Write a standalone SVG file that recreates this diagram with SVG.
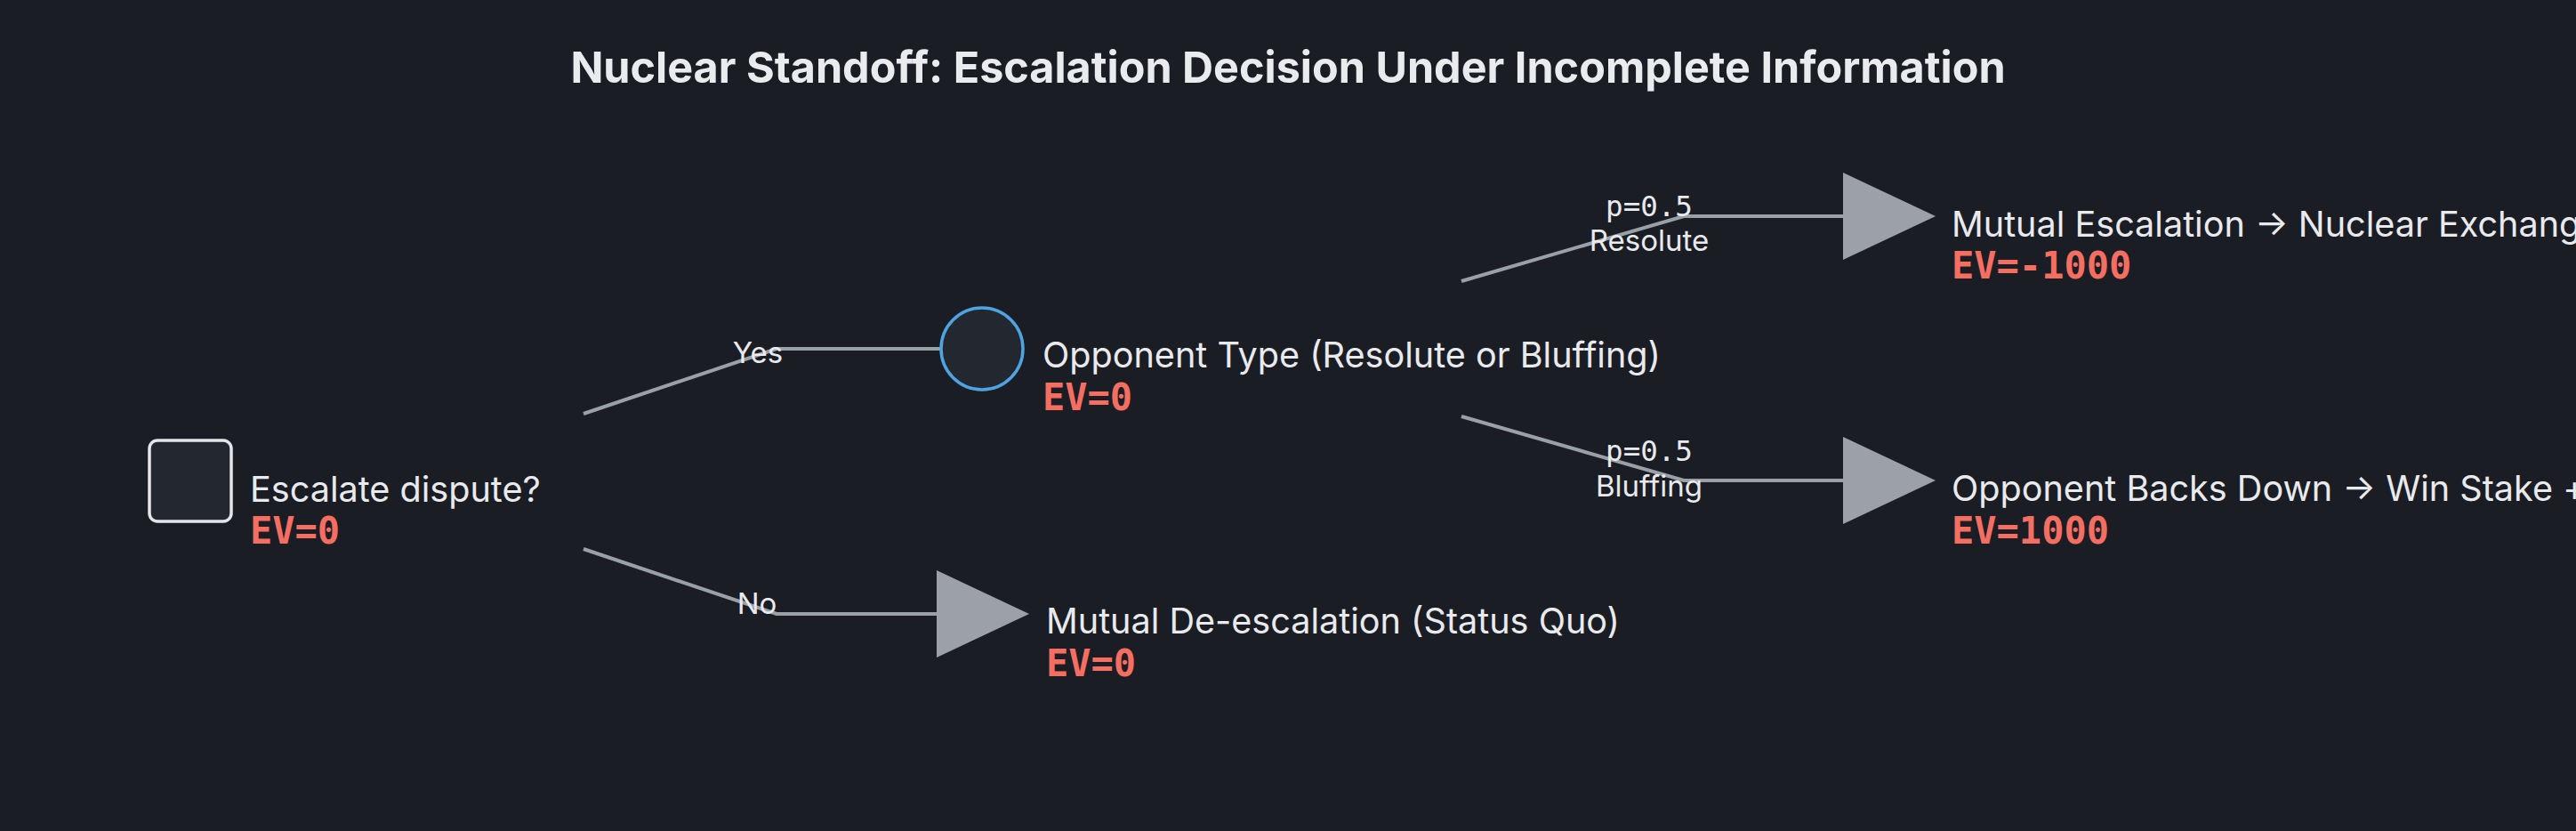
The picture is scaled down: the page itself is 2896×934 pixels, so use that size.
<svg xmlns="http://www.w3.org/2000/svg" width="2896" height="934" viewBox="0 0 2896 934">
<style>
.bg{fill:#1b1d24}
.title{font-family:Inter,"Noto Sans","Liberation Sans",sans-serif;font-weight:700;font-size:48.5px;fill:#eaebee;text-anchor:middle}
.lbl{font-family:Inter,"Noto Sans","Liberation Sans",sans-serif;font-size:39.6px;fill:#e9eaed}
.ev{font-family:"DejaVu Sans Mono","Liberation Mono",monospace;font-weight:700;font-size:42px;fill:#f56e62}
.edge{fill:none;stroke:#9aa0a7;stroke-width:4}
.elbl{font-family:Inter,"Noto Sans","Liberation Sans",sans-serif;font-size:33px;fill:#e9eaed;text-anchor:middle}
.plbl{font-family:"DejaVu Sans Mono","Liberation Mono",monospace;font-size:32.5px;fill:#e9eaed;text-anchor:middle}
.term{fill:#9ca1a8}
.dec{fill:#232730;stroke:#e3e5e9;stroke-width:3.5}
.chance{fill:#232730;stroke:#4ea3e0;stroke-width:3.5}
</style>
<rect class="bg" x="0" y="0" width="2896" height="934"/>
<text class="title" x="1448" y="93">Nuclear Standoff: Escalation Decision Under Incomplete Information</text>

<g id="connectors">
<polyline class="edge" points="656,465 873,392 1057,392"/>
<polyline class="edge" points="656,617 873,690 1060,690"/>
<polyline class="edge" points="1643,316 1893,243 2076,243"/>
<polyline class="edge" points="1643,468 1893,540 2076,540"/>
<text class="elbl" x="852" y="408">Yes</text>
<text class="elbl" x="851" y="690">No</text>
<text class="plbl" x="1854" y="243">p=0.5</text>
<text class="elbl" x="1854" y="282">Resolute</text>
<text class="plbl" x="1854" y="518">p=0.5</text>
<text class="elbl" x="1854" y="558">Bluffing</text>
</g>

<g id="decision">
<rect class="dec" x="168" y="495" width="92" height="91" rx="9"/>
<text class="lbl" x="281" y="564">Escalate dispute?</text>
<text class="ev" x="281" y="611">EV=0</text>
</g>

<g id="chance">
<circle class="chance" cx="1104" cy="392" r="46"/>
<text class="lbl" x="1172" y="413">Opponent Type (Resolute or Bluffing)</text>
<text class="ev" x="1172" y="461">EV=0</text>
</g>

<g id="status-quo">
<polygon class="term" points="1053,641 1157,690 1053,739"/>
<text class="lbl" x="1176" y="712">Mutual De-escalation (Status Quo)</text>
<text class="ev" x="1176" y="760">EV=0</text>
</g>

<g id="nuclear-exchange">
<polygon class="term" points="2072,194 2176,243 2072,292"/>
<text class="lbl" x="2194" y="266">Mutual Escalation → Nuclear Exchang</text>
<text class="ev" x="2194" y="313">EV=-1000</text>
</g>

<g id="backs-down">
<polygon class="term" points="2072,491 2176,540 2072,589"/>
<text class="lbl" x="2194" y="563">Opponent Backs Down → Win Stake +</text>
<text class="ev" x="2194" y="611">EV=1000</text>
</g>
</svg>
